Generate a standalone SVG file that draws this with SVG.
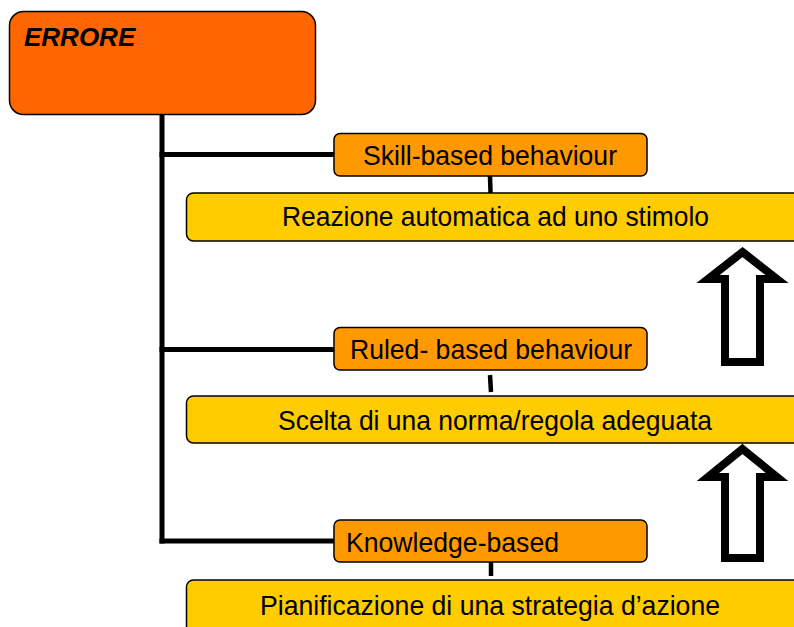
<svg xmlns="http://www.w3.org/2000/svg" width="794" height="627" viewBox="0 0 794 627">
<style>
  .t { font-family: "Liberation Sans", Arial, sans-serif; font-size: 28px; fill: #000; }
  .mid { text-anchor: middle; }
  .lvl { fill: #FF9900; stroke: #000; stroke-width: 1.5; }
  .desc { fill: #FFCC00; stroke: #000; stroke-width: 1.5; }
  .conn { stroke: #000; stroke-width: 5; fill: none; }
  .small { stroke: #000; stroke-width: 4.5; fill: none; }
  .arrow { fill: #fff; stroke: #000; stroke-width: 8; stroke-linejoin: miter; stroke-miterlimit: 6; }
</style>
<rect width="794" height="627" fill="#fff"/>

<g id="connectors">
  <line class="conn" x1="162" y1="115" x2="162" y2="543.5"/>
  <line class="conn" x1="159.5" y1="154.5" x2="334" y2="154.5"/>
  <line class="conn" x1="159.5" y1="349.5" x2="334" y2="349.5"/>
  <line class="conn" x1="159.5" y1="541" x2="334" y2="541"/>
  <line class="small" x1="490" y1="176" x2="490.5" y2="193"/>
  <line class="small" x1="490" y1="375" x2="491" y2="392"/>
  <line class="small" x1="491" y1="562" x2="491" y2="576"/>
</g>

<g id="errore">
  <rect x="9.5" y="11.5" width="306" height="103" rx="14" fill="#FF6600" stroke="#000" stroke-width="1.5"/>
  <text x="24" y="46" style="font-family: 'Liberation Sans', Arial, sans-serif; font-size: 26px; font-weight: bold; font-style: italic;">ERRORE</text>
</g>

<g id="skill">
  <rect class="lvl" x="334" y="133.5" width="313" height="42.5" rx="6"/>
  <text class="t mid" x="490" y="165" textLength="254" lengthAdjust="spacingAndGlyphs">Skill-based behaviour</text>
</g>
<g id="skill-desc">
  <rect class="desc" x="186.5" y="193" width="620" height="48" rx="7"/>
  <text class="t mid" x="495.5" y="226" textLength="427" lengthAdjust="spacingAndGlyphs">Reazione automatica ad uno stimolo</text>
</g>

<g id="ruled">
  <rect class="lvl" x="334" y="327.5" width="313" height="42.5" rx="6"/>
  <text class="t mid" x="491" y="359" textLength="282" lengthAdjust="spacingAndGlyphs">Ruled- based behaviour</text>
</g>
<g id="ruled-desc">
  <rect class="desc" x="186.5" y="396" width="620" height="47" rx="7"/>
  <text class="t mid" x="495" y="430" textLength="434" lengthAdjust="spacingAndGlyphs">Scelta di una norma/regola adeguata</text>
</g>

<g id="knowledge">
  <rect class="lvl" x="334" y="520" width="313" height="42" rx="6"/>
  <text class="t" x="346" y="552" textLength="213" lengthAdjust="spacingAndGlyphs">Knowledge-based</text>
</g>
<g id="knowledge-desc">
  <rect class="desc" x="186.5" y="580" width="620" height="60" rx="7"/>
  <text class="t mid" x="490" y="615" textLength="460" lengthAdjust="spacingAndGlyphs">Pianificazione di una strategia d’azione</text>
</g>

<g id="arrow-up-1">
  <polygon class="arrow" points="742.5,252 777,279 760,279 760,362 725,362 725,279 708,279"/>
</g>
<g id="arrow-up-2">
  <polygon class="arrow" points="742.5,449 777,477 760,477 760,558 725,558 725,477 708,477"/>
</g>
</svg>
